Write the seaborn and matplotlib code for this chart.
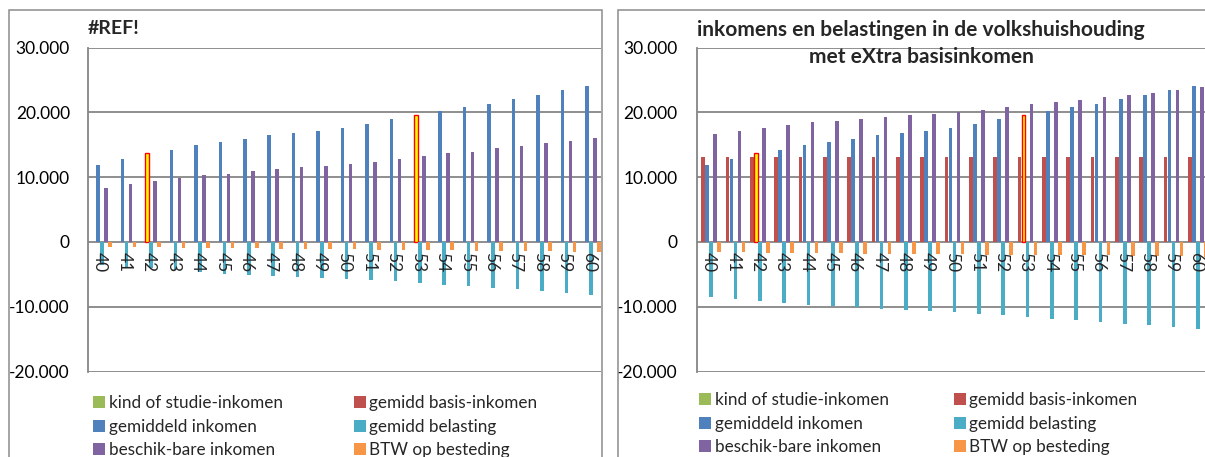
import matplotlib
matplotlib.use("Agg")
import matplotlib.pyplot as plt
import matplotlib.ticker as mticker
from matplotlib.patches import Patch, Rectangle
import pandas as pd
import seaborn as sns

# leeftijden (categorieen)
leeftijd = ['40', '41', '42', '43', '44', '45', '46', '47', '48', '49', '50',
            '51', '52', '53', '54', '55', '56', '57', '58', '59', '60']

series = ['kind of studie-inkomen', 'gemidd basis-inkomen', 'gemiddeld inkomen',
          'gemidd belasting', 'beschik-bare inkomen', 'BTW op besteding']
colors = ['#9BBB59', '#C0504D', '#4F81BD', '#4BACC6', '#8064A2', '#F79646']

# linker grafiek (#REF!)
l_kind = [0, 0, 0, 0, 0, 0, 0, 0, 0, 0, 0, 0, 0, 0, 0, 0, 0, 0, 0, 0, 0]
l_basis = [0, 0, 0, 0, 0, 0, 0, 0, 0, 0, 0, 0, 0, 0, 0, 0, 0, 0, 0, 0, 0]
l_inkomen = [11900, 12750, 13650, 14250, 14950, 15350, 15900, 16450, 16800, 17150, 17650,
             18250, 18900, 19600, 20250, 20850, 21350, 22100, 22700, 23400, 24100]
l_belasting = [-3500, -3800, -4100, -4400, -4600, -4900, -5050, -5300, -5400, -5500, -5700,
               -5900, -6100, -6350, -6650, -6850, -7050, -7300, -7600, -7850, -8150]
l_beschikbaar = [8350, 8900, 9450, 9850, 10250, 10550, 10900, 11250, 11500, 11700, 12050,
                 12400, 12850, 13300, 13650, 13950, 14450, 14800, 15200, 15600, 16050]
l_btw = [-800, -820, -860, -900, -950, -980, -1000, -1050, -1080, -1100, -1120,
         -1180, -1220, -1260, -1290, -1330, -1370, -1420, -1480, -1530, -1600]

# rechter grafiek (met extra basisinkomen)
r_kind = [0, 0, 0, 0, 0, 0, 0, 0, 0, 0, 0, 0, 0, 0, 0, 0, 0, 0, 0, 0, 0]
r_basis = [13150, 13150, 13150, 13150, 13150, 13150, 13150, 13150, 13150, 13150, 13150,
           13150, 13150, 13150, 13150, 13150, 13150, 13150, 13150, 13150, 13150]
r_inkomen = [11900, 12750, 13650, 14250, 14950, 15350, 15900, 16450, 16800, 17150, 17650,
             18250, 18900, 19600, 20250, 20850, 21350, 22100, 22700, 23400, 24100]
r_belasting = [-8550, -8850, -9150, -9450, -9700, -9950, -10100, -10350, -10500, -10650, -10850,
               -11100, -11350, -11600, -11900, -12100, -12300, -12600, -12900, -13150, -13450]
r_beschikbaar = [16700, 17150, 17650, 18100, 18450, 18700, 19000, 19350, 19550, 19750, 20050,
                 20400, 20850, 21250, 21650, 21950, 22300, 22700, 23050, 23450, 23950]
r_btw = [-1550, -1600, -1650, -1700, -1750, -1750, -1800, -1850, -1850, -1900, -1900,
         -1950, -1970, -2000, -2000, -2050, -2070, -2100, -2200, -2200, -2300]

# gemarkeerde punten (gemiddeld inkomen)
highlight = ['42', '53']

title_left = '#REF!'
title_right = ['inkomens en belastingen in de volkshuishouding', 'met eXtra basisinkomen']

sns.set_style('white')
plt.rcParams['font.family'] = ['Lato', 'DejaVu Sans']

W, H = 1205, 457
GRID = '#868686'


def long_frame(cols):
    rows = []
    for name, vals in zip(series, cols):
        for lt, v in zip(leeftijd, vals):
            rows.append({'leeftijd': lt, 'reeks': name, 'waarde': v})
    return pd.DataFrame(rows)


def fx(px):
    return px / W


def fy(py):
    return 1 - py / H


def draw_panel(fig, left, right, cols, legend_x, legend_y, ypad, colspace):
    top, bottom = 47.5, 371.5
    ax = fig.add_axes([fx(left), fy(bottom), fx(right - left), (bottom - top) / H])
    df = long_frame(cols)
    sns.barplot(data=df, x='leeftijd', y='waarde', hue='reeks', order=leeftijd,
                hue_order=series, palette=colors, width=0.98, gap=0.1,
                saturation=1, linewidth=0, legend=False, ax=ax)
    cont = ax.containers[series.index('gemiddeld inkomen')]
    for lt in highlight:
        bar = cont[leeftijd.index(lt)]
        bar.set_facecolor('#FFFF00')
        bar.set_edgecolor('#FF0000')
        bar.set_linewidth(1.0)

    ax.set_ylim(-20000, 30000)
    ax.set_xlim(-0.5, len(leeftijd) - 0.5)
    ax.set_yticks([-20000, -10000, 0, 10000, 20000, 30000])
    ax.yaxis.set_major_formatter(mticker.FuncFormatter(
        lambda v, p: f'{v:,.0f}'.replace(',', '.')))
    ax.grid(axis='y', color=GRID, linewidth=1.3)
    ax.set_axisbelow(True)
    for s in ['top', 'right', 'bottom']:
        ax.spines[s].set_visible(False)
    ax.spines['left'].set_color(GRID)
    ax.spines['left'].set_linewidth(1.3)
    ax.tick_params(axis='y', length=0, pad=ypad, labelsize=12.5, labelcolor='black')
    ax.set_xlabel('')
    ax.set_ylabel('')
    ax.set_xticks([])

    # categorie-labels naast de nul-as, boven de staven
    for i, lt in enumerate(leeftijd):
        ax.annotate(lt, (i, 0), xytext=(0, -7.5), textcoords='offset points',
                    rotation=270, ha='center', va='top', fontsize=12.5, zorder=6,
                    annotation_clip=False)

    handles = [Patch(facecolor=c, edgecolor='none') for c in colors]
    order = [0, 2, 4, 1, 3, 5]
    ax.legend([handles[i] for i in order], [series[i] for i in order], ncol=2,
              loc='upper left', bbox_to_anchor=(fx(legend_x), fy(legend_y)),
              bbox_transform=fig.transFigure, frameon=False, fontsize=12.3,
              handlelength=0.72, handleheight=0.72, handletextpad=0.2,
              labelspacing=0.45, columnspacing=colspace, borderaxespad=0, borderpad=0)
    return ax


fig = plt.figure(figsize=(W / 100, H / 100), dpi=100)
fig.patch.set_facecolor('white')

# kaders van beide grafieken
fig.add_artist(Rectangle((fx(8.5), fy(470)), fx(602 - 8.5), (470 - 10) / H,
                         transform=fig.transFigure, fill=False, edgecolor='#8C8C8C', linewidth=1.1))
fig.add_artist(Rectangle((fx(618), fy(470)), fx(1230 - 618), (470 - 10) / H,
                         transform=fig.transFigure, fill=False, edgecolor='#8C8C8C', linewidth=1.1))

draw_panel(fig, 88, 601,
           [l_kind, l_basis, l_inkomen, l_belasting, l_beschikbaar, l_btw],
           93, 395, 13, 4.15)
draw_panel(fig, 697, 1208,
           [r_kind, r_basis, r_inkomen, r_belasting, r_beschikbaar, r_btw],
           699, 392, 14, 3.8)

fig.text(fx(88), fy(28), title_left, fontsize=14, fontweight='bold', ha='left', va='center')
fig.text(fx(921), fy(30), title_right[0], fontsize=15, fontweight='bold', ha='center', va='center')
fig.text(fx(921), fy(57), title_right[1], fontsize=15, fontweight='bold', ha='center', va='center')

fig.savefig('out.png', dpi=100)
plt.close(fig)
